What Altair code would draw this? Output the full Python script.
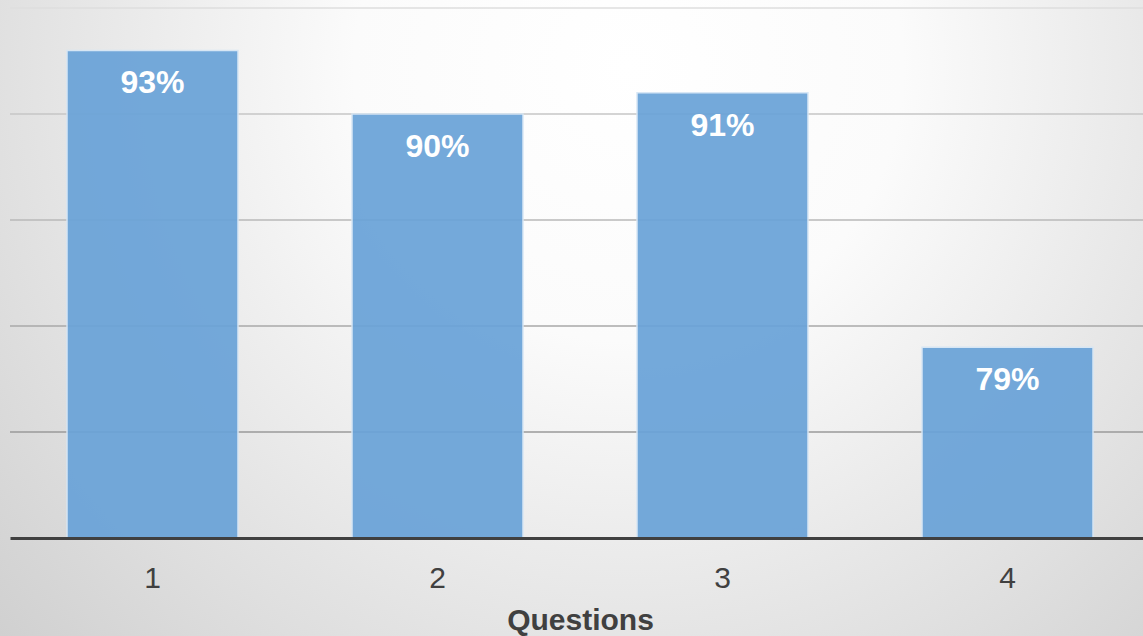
import altair as alt
import pandas as pd

questions = ["1", "2", "3", "4"]
scores = [93, 90, 91, 79]
labels = ["93%", "90%", "91%", "79%"]
grid_values = [75, 80, 85, 90, 95]
grid_colors = ["#9a9a9a", "#a8a8a8", "#b8b8b8", "#c6c6c6", "#dedede"]

df = pd.DataFrame({"q": questions, "v": scores, "lab": labels})
grid_df = pd.DataFrame({"g": grid_values})
bg_df = pd.DataFrame({"a": [0]})

W, H = 1133, 530
FONT = "Liberation Sans"

yscale = alt.Scale(domain=[70, 95], nice=False, zero=False)
xscale = alt.Scale(range=[0, 1140], paddingInner=0.4, paddingOuter=0.2)

bg = alt.Chart(bg_df).mark_rect(
    fill={
        "gradient": "radial",
        "x1": 0.55, "y1": 0.28, "r1": 0,
        "x2": 0.55, "y2": 0.28, "r2": 0.8,
        "stops": [
            {"offset": 0.0, "color": "#ffffff"},
            {"offset": 0.3, "color": "#fbfbfb"},
            {"offset": 1.0, "color": "#cbcbcb"},
        ],
    },
    strokeWidth=0,
).encode(x=alt.value(-10), x2=alt.value(W), y=alt.value(-8), y2=alt.value(628))

grid = alt.Chart(grid_df).mark_rule(strokeWidth=1.5).encode(
    y=alt.Y("g:Q", scale=yscale, axis=None),
    color=alt.Color("g:O", scale=alt.Scale(domain=grid_values, range=grid_colors), legend=None),
    x=alt.value(0), x2=alt.value(W),
)

bars = alt.Chart(df).mark_bar(
    color="#6aa3d8", opacity=0.93, stroke="#d6e6f5", strokeWidth=1.5, clip=True
).encode(
    x=alt.X("q:N", scale=xscale, sort=questions,
            axis=alt.Axis(title="Questions", labelAngle=0, ticks=False, grid=False,
                          domainColor="#404040", domainWidth=3,
                          labelFont=FONT, labelFontSize=30, labelColor="#404040",
                          labelPadding=25,
                          titleFont=FONT, titleFontSize=30, titleFontWeight="bold",
                          titleColor="#404040", titlePadding=12, zindex=1)),
    y=alt.Y("v:Q", scale=yscale, axis=None),
)

text = alt.Chart(df).mark_text(
    color="white", font=FONT, fontSize=32, fontWeight="bold", baseline="top", dy=18
).encode(
    x=alt.X("q:N", scale=xscale, sort=questions),
    y=alt.Y("v:Q", scale=yscale),
    text="lab:N",
)

chart = alt.layer(bg, grid, bars, text).resolve_scale(color="independent").properties(
    width=W, height=H,
    autosize=alt.AutoSizeParams(type="none"),
    padding={"left": 10, "top": 8, "right": 0, "bottom": 98},
).configure_view(stroke=None).configure(background="#d9d9d9")

chart.save("out.html", embed_options={"renderer": "svg", "actions": False})
